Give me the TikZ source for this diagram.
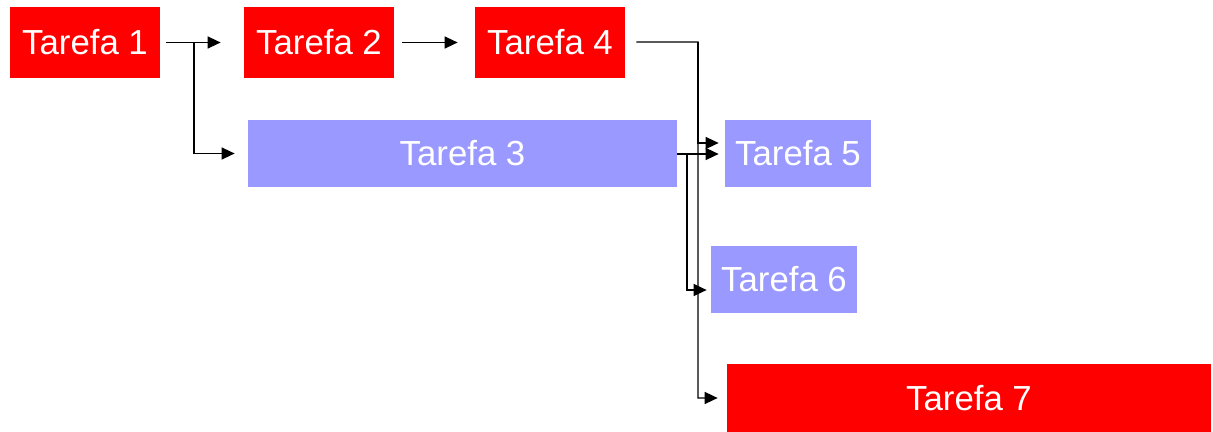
\documentclass[tikz,border=0pt]{standalone}
\usepackage{fontspec}
\setmainfont{Liberation Sans}
\usetikzlibrary{arrows.meta}
\definecolor{taskred}{HTML}{FF0000}
\definecolor{tasklav}{HTML}{9999FF}
\tikzset{
    task/.style={inner sep=0pt, text=white, minimum width=3cm, minimum height=1.42cm,
        font=\fontsize{19.8}{23}\selectfont},
    redtask/.style={task, fill=taskred},
    lavtask/.style={task, fill=tasklav, minimum height=1.34cm},
    link/.style={line width=0.8pt, ->, >={Triangle[length=0.26cm,width=0.24cm]}}
}
\begin{document}
\begin{tikzpicture}
    \useasboundingbox (0,0) rectangle (24.26,-8.64);
    \draw (1.70,-0.85) node[redtask](t1){Tarefa 1};
    \draw (6.38,-0.85) node[redtask](t2){Tarefa 2};
    \draw (11.00,-0.85) node[redtask](t4){Tarefa 4};
    \draw (9.25,-3.07) node[lavtask, minimum width=8.58cm](t3){Tarefa 3};
    \draw (15.96,-3.07) node[lavtask, minimum width=2.92cm](t5){Tarefa 5};
    \draw (15.68,-5.59) node[lavtask, minimum width=2.92cm](t6){Tarefa 6};
    \draw (19.38,-7.96) node[redtask, minimum width=9.68cm, minimum height=1.36cm](t7){Tarefa 7};
    % branch points
    \coordinate (b1) at (3.88,-0.85);
    \coordinate (b4) at (13.96,-0.84);
    \coordinate (b3) at (13.74,-3.08);
    \draw[link] ([xshift=0.12cm]t1.east) -- ([xshift=-0.46cm]t2.west);
    \draw[link] (b1) |- ([xshift=-0.26cm]t3.west);
    \draw[link] ([xshift=0.16cm]t2.east) -- ([xshift=-0.34cm]t4.west);
    \draw[link] ([xshift=0.22cm,yshift=0.01cm]t4.east) -- (b4) |- ([xshift=-0.18cm]t7.west);
    \draw[link] (b4) |- ([xshift=-0.12cm,yshift=0.21cm]t5.west);
    \draw[link] ([yshift=-0.01cm]t3.east) -- ([xshift=-0.12cm,yshift=-0.01cm]t5.west);
    \draw[link] (b3) |- ([xshift=-0.08cm,yshift=-0.21cm]t6.west);
\end{tikzpicture}
\end{document}
